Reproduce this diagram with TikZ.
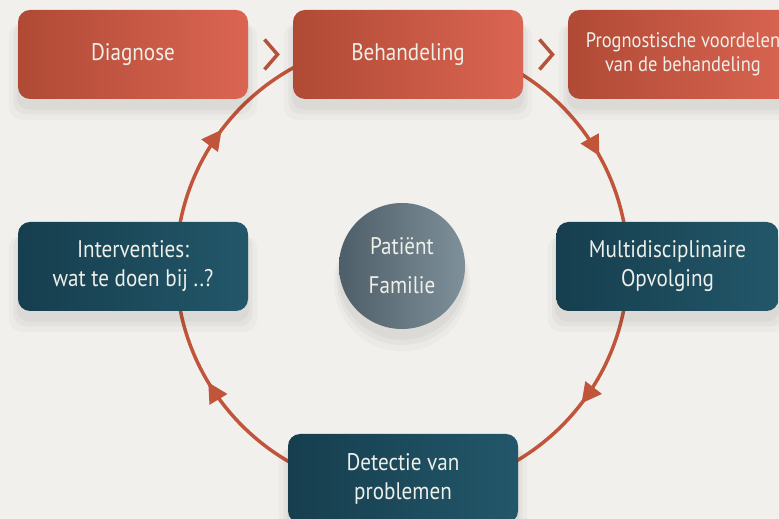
\documentclass[tikz,border=0pt]{standalone}
\usepackage{fontspec}
\setmainfont{PT Sans}[FakeStretch=0.88]
\usetikzlibrary{arrows.meta,calc,decorations.markings,shadows}
\definecolor{paper}{HTML}{F2F0EC}
\definecolor{rustA}{HTML}{B04A35}
\definecolor{rustB}{HTML}{DA6552}
\definecolor{tealA}{HTML}{163E4E}
\definecolor{tealB}{HTML}{225769}
\definecolor{slateA}{HTML}{4E5E69}
\definecolor{slateB}{HTML}{7E9099}
\definecolor{ringcol}{HTML}{C0553B}
\definecolor{chevcol}{HTML}{B4523C}
\definecolor{boxtext}{HTML}{EFEFEA}
\tikzset{
  soft shadow/.style={
    general shadow={fill=black, opacity=0.025, shadow yshift=-16pt, shadow scale=1.08},
    general shadow={fill=black, opacity=0.03, shadow yshift=-13pt, shadow scale=1.04},
    general shadow={fill=black, opacity=0.035, shadow yshift=-10pt, shadow scale=1.01}},
  box/.style={rounded corners=12pt, minimum width=230pt, minimum height=89pt,
    align=center, text=boxtext, font=\fontsize{24}{29}\selectfont, soft shadow},
  redbox/.style={box, left color=rustA, right color=rustB},
  tealbox/.style={box, left color=tealA, right color=tealB},
  hub/.style={circle, minimum size=126pt, align=center, text=boxtext,
    left color=slateA, right color=slateB, font=\fontsize{24}{39}\selectfont, soft shadow},
  ring/.style={draw=ringcol, line width=3.5pt, postaction={decorate},
    decoration={markings,
      mark=at position 0.169 with {\arrow{Triangle[length=20pt,width=20pt]}},
      mark=at position 0.354 with {\arrow{Triangle[length=20pt,width=20pt]}},
      mark=at position 0.664 with {\arrow{Triangle[length=20pt,width=20pt]}},
      mark=at position 0.853 with {\arrow{Triangle[length=20pt,width=20pt]}}}},
  chev/.style={draw=chevcol, line width=3.5pt}
}
\begin{document}
\begin{tikzpicture}[x=1pt,y=1pt]
\clip (0,0) rectangle (779,519);
\fill[paper] (0,0) rectangle (779,519);
% centre
\node[hub] (pat) at (402,253) {Patiënt\\Familie};
% cycle
\draw[ring] (pat.center) ++(0,226) arc[start angle=90, end angle=-270, radius=226];
% top row
\node[redbox] (diag) at (133,464.5) {Diagnose};
\node[redbox] (beh) at (408,464.5) {Behandeling};
\node[redbox, font=\fontsize{21}{24}\selectfont] (prog) at (683,464.5)
  {Prognostische voordelen\\van de behandeling};
\draw[chev] ($(diag.east)!.5!(beh.west)$) +(-6,15) -- +(7,0) -- +(-6,-15);
\draw[chev] ($(beh.east)!.5!(prog.west)$) +(-6,15) -- +(7,0) -- +(-6,-15);
% follow-up
\node[tealbox] (int) at (133,252.5) {Interventies:\\wat te doen bij ..?};
\node[tealbox, minimum width=222pt] (multi) at (667.5,252.5) {Multidisciplinaire\\Opvolging};
\node[tealbox] (det) at (403,40.5) {Detectie van\\problemen};
\end{tikzpicture}
\end{document}
